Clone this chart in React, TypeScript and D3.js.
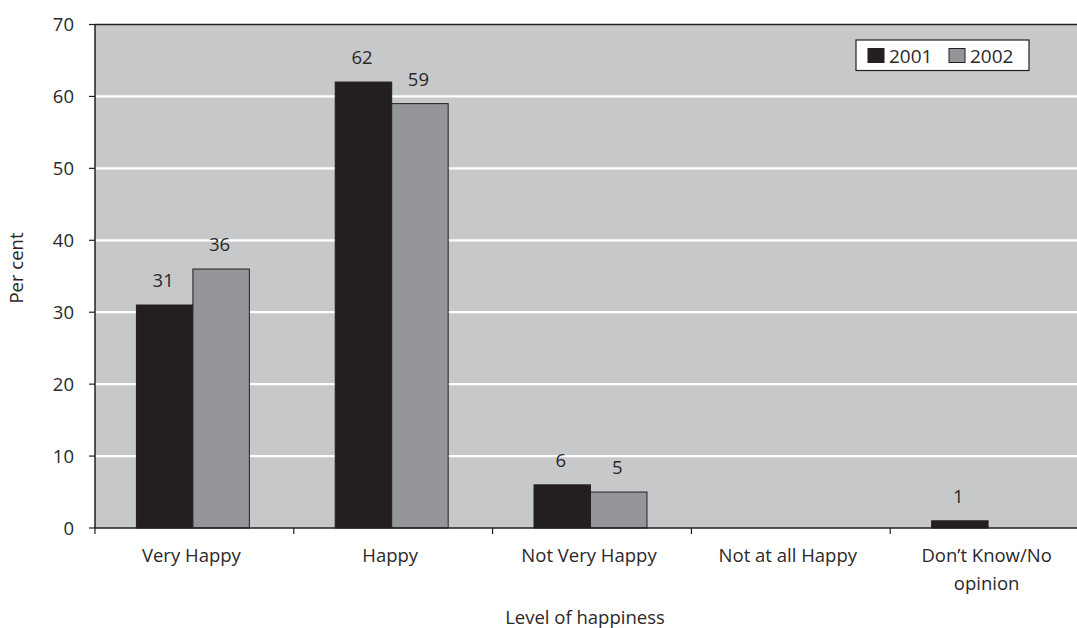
import React from "react";
import * as d3 from "d3";

// Survey responses: level of happiness, per cent of respondents
const categories: string[][] = [
  ["Very Happy"],
  ["Happy"],
  ["Not Very Happy"],
  ["Not at all Happy"],
  ["Don\u2019t Know/No", "opinion"],
];
const seriesNames = ["2001", "2002"];
const values2001 = [31, 62, 6, 0, 1];
const values2002 = [36, 59, 5, 0, 0];
const yTicks = [0, 10, 20, 30, 40, 50, 60, 70];

const W = 1077;
const H = 628;
const FONT = "'Open Sans', Lato, sans-serif";
const TEXT = "#2b2829";
const DARK = "#231f20";
const GREY = "#939598";
const BG = "#c7c8ca";
const FS = 18.5;

export default function App() {
  const left = 95;
  const right = 1089;
  const top = 24.5;
  const bottom = 528;

  const keys = categories.map((c) => c.join(" "));
  const x = d3.scaleBand<string>().domain(keys).range([left, right]).padding(0);
  const x1 = d3
    .scaleBand<string>()
    .domain(seriesNames)
    .range([0, x.bandwidth()])
    .paddingInner(0)
    .paddingOuter(0.76);
  const y = d3.scaleLinear().domain([0, 70]).range([bottom, top]);

  const series = [
    { name: "2001", values: values2001, fill: DARK },
    { name: "2002", values: values2002, fill: GREY },
  ];

  return (
    <svg
      width={W}
      height={H}
      style={{ position: "absolute", left: 0, top: 0, background: "#fff" }}
      fontFamily={FONT}
    >
      {/* plot background */}
      <rect x={left} y={top} width={right - left} height={bottom - top} fill={BG} />
      {/* gridlines */}
      {yTicks
        .filter((t) => t > 0 && t < 70)
        .map((t) => (
          <line key={t} x1={left} x2={right} y1={y(t)} y2={y(t)} stroke="#fff" strokeWidth={2.2} />
        ))}
      {/* bars */}
      {series.map((s) =>
        s.values.map((v, i) =>
          v > 0 ? (
            <rect
              key={s.name + i}
              x={(x(keys[i]) ?? 0) + (x1(s.name) ?? 0) - 1.5}
              y={y(v)}
              width={x1.bandwidth()}
              height={y(0) - y(v)}
              fill={s.fill}
              stroke={DARK}
              strokeWidth={1}
            />
          ) : null
        )
      )}
      {/* value labels */}
      {series.map((s) =>
        s.values.map((v, i) =>
          v > 0 ? (
            <text
              key={"l" + s.name + i}
              x={(x(keys[i]) ?? 0) + (x1(s.name) ?? 0) + x1.bandwidth() / 2 - 3}
              y={y(v) - 18}
              textAnchor="middle"
              fontSize={FS}
              fill={TEXT}
            >
              {v}
            </text>
          ) : null
        )
      )}
      {/* frame: top border, left axis, bottom axis */}
      <line x1={left} x2={right} y1={top} y2={top} stroke={DARK} strokeWidth={1.5} />
      <line x1={left} x2={left} y1={top} y2={bottom} stroke={DARK} strokeWidth={1.5} />
      <line x1={left} x2={right} y1={bottom} y2={bottom} stroke={DARK} strokeWidth={1.5} />
      {/* y ticks */}
      {yTicks.map((t) => (
        <g key={"yt" + t}>
          <line x1={left - 6} x2={left} y1={y(t)} y2={y(t)} stroke={DARK} strokeWidth={1.2} />
          <text x={74} y={y(t) + 6.5} textAnchor="end" fontSize={FS} fill={TEXT}>
            {t}
          </text>
        </g>
      ))}
      {/* x ticks at band boundaries */}
      {keys.map((k) => (
        <line
          key={"xt" + k}
          x1={x(k) ?? 0}
          x2={x(k) ?? 0}
          y1={bottom}
          y2={bottom + 6}
          stroke={DARK}
          strokeWidth={1.2}
        />
      ))}
      {/* category labels */}
      {categories.map((lines, i) => (
        <text
          key={"c" + i}
          x={(x(keys[i]) ?? 0) + x.bandwidth() / 2}
          y={562}
          textAnchor="middle"
          fontSize={FS}
          fill={TEXT}
        >
          {lines.map((ln, j) => (
            <tspan key={j} x={(x(keys[i]) ?? 0) + x.bandwidth() / 2 - 3} dy={j === 0 ? 0 : 28}>
              {ln}
            </tspan>
          ))}
        </text>
      ))}
      {/* axis titles */}
      <text x={585} y={624} textAnchor="middle" fontSize={FS} fill={TEXT}>
        Level of happiness
      </text>
      <text
        transform={`translate(23,${268}) rotate(-90)`}
        textAnchor="middle"
        fontSize={FS}
        fill={TEXT}
      >
        Per cent
      </text>
      {/* legend */}
      <g>
        <rect x={856} y={40} width={173} height={30.5} fill="#fff" stroke={DARK} strokeWidth={1.2} />
        {series.map((s, i) => (
          <g key={"lg" + s.name} transform={`translate(${868 + i * 81},0)`}>
            <rect x={0} y={48.5} width={16} height={14} fill={s.fill} stroke={DARK} strokeWidth={1} />
            <text x={21} y={62.5} fontSize={19} fill={TEXT}>
              {s.name}
            </text>
          </g>
        ))}
      </g>
    </svg>
  );
}
